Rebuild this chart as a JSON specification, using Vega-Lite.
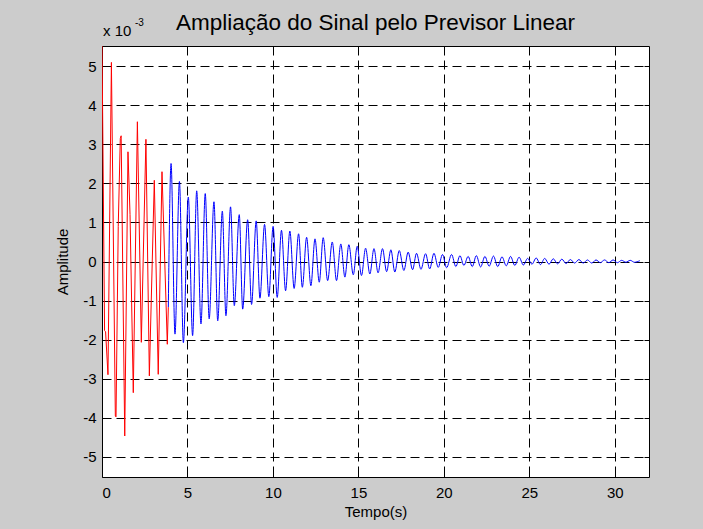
{
  "$schema": "https://vega.github.io/schema/vega-lite/v6.json",
  "width": 547,
  "height": 431,
  "autosize": {"type": "none"},
  "padding": {"left": 102, "top": 46, "right": 54, "bottom": 52},
  "background": "#CCCCCC",
  "config": {
    "font": "Liberation Sans",
    "view": {"stroke": "#000000", "strokeWidth": 1, "fill": "#FFFFFF"}
  },
  "title": {
    "text": "Ampliação do Sinal pelo Previsor Linear",
    "font": "Liberation Sans",
    "fontSize": 22.5,
    "fontWeight": "normal",
    "color": "#000000",
    "anchor": "middle",
    "frame": "group",
    "baseline": "alphabetic",
    "offset": -12,
    "dy": 22
  },
  "datasets": {
    "sinal": [
      {"t": 0.00, "amp": 5.6, "trecho": "original"},
      {"t": 0.15, "amp": -1.77, "trecho": "original"},
      {"t": 0.21, "amp": -1.8, "trecho": "original"},
      {"t": 0.35, "amp": -2.9, "trecho": "original"},
      {"t": 0.55, "amp": 5.1, "trecho": "original"},
      {"t": 0.78, "amp": -3.96, "trecho": "original"},
      {"t": 0.82, "amp": -3.98, "trecho": "original"},
      {"t": 0.95, "amp": 0.9, "trecho": "original"},
      {"t": 1.07, "amp": 3.15, "trecho": "original"},
      {"t": 1.12, "amp": 3.22, "trecho": "original"},
      {"t": 1.33, "amp": -4.47, "trecho": "original"},
      {"t": 1.52, "amp": 2.81, "trecho": "original"},
      {"t": 1.64, "amp": 1.2, "trecho": "original"},
      {"t": 1.83, "amp": -3.36, "trecho": "original"},
      {"t": 2.07, "amp": 3.58, "trecho": "original"},
      {"t": 2.30, "amp": -2.07, "trecho": "original"},
      {"t": 2.57, "amp": 3.13, "trecho": "original"},
      {"t": 2.77, "amp": -2.93, "trecho": "original"},
      {"t": 3.06, "amp": 2.08, "trecho": "original"},
      {"t": 3.29, "amp": -2.89, "trecho": "original"},
      {"t": 3.51, "amp": 2.30, "trecho": "original"},
      {"t": 3.82, "amp": -2.12, "trecho": "original"},
      {"t": 3.88, "amp": -1.17, "trecho": "original"},

      {"t": 3.88, "amp": -1.17, "trecho": "previsto"},
      {"t": 4.04, "amp": 2.51, "trecho": "previsto"},
      {"t": 4.27, "amp": -1.86, "trecho": "previsto"},
      {"t": 4.53, "amp": 2.05, "trecho": "previsto"},
      {"t": 4.76, "amp": -2.08, "trecho": "previsto"},
      {"t": 5.05, "amp": 1.65, "trecho": "previsto"},
      {"t": 5.30, "amp": -1.90, "trecho": "previsto"},
      {"t": 5.54, "amp": 1.81, "trecho": "previsto"},
      {"t": 5.79, "amp": -1.60, "trecho": "previsto"},
      {"t": 6.04, "amp": 1.74, "trecho": "previsto"},
      {"t": 6.27, "amp": -1.47, "trecho": "previsto"},
      {"t": 6.55, "amp": 1.53, "trecho": "previsto"},
      {"t": 6.77, "amp": -1.52, "trecho": "previsto"},
      {"t": 7.04, "amp": 1.29, "trecho": "previsto"},
      {"t": 7.25, "amp": -1.39, "trecho": "previsto"},
      {"t": 7.52, "amp": 1.40, "trecho": "previsto"},
      {"t": 7.74, "amp": -1.13, "trecho": "previsto"},
      {"t": 8.03, "amp": 1.20, "trecho": "previsto"},
      {"t": 8.23, "amp": -1.22, "trecho": "previsto"},
      {"t": 8.52, "amp": 1.07, "trecho": "previsto"},
      {"t": 8.75, "amp": -1.10, "trecho": "previsto"},
      {"t": 9.02, "amp": 1.04, "trecho": "previsto"},
      {"t": 9.24, "amp": -0.94, "trecho": "previsto"},
      {"t": 9.51, "amp": 0.95, "trecho": "previsto"},
      {"t": 9.76, "amp": -0.90, "trecho": "previsto"},
      {"t": 10.01, "amp": 0.90, "trecho": "previsto"},
      {"t": 10.25, "amp": -0.92, "trecho": "previsto"},
      {"t": 10.50, "amp": 0.80, "trecho": "previsto"},
      {"t": 10.74, "amp": -0.75, "trecho": "previsto"},
      {"t": 10.99, "amp": 0.78, "trecho": "previsto"},
      {"t": 11.24, "amp": -0.69, "trecho": "previsto"},
      {"t": 11.50, "amp": 0.71, "trecho": "previsto"},
      {"t": 11.72, "amp": -0.66, "trecho": "previsto"},
      {"t": 11.97, "amp": 0.62, "trecho": "previsto"},
      {"t": 12.22, "amp": -0.62, "trecho": "previsto"},
      {"t": 12.46, "amp": 0.58, "trecho": "previsto"},
      {"t": 12.71, "amp": -0.53, "trecho": "previsto"},
      {"t": 12.94, "amp": 0.61, "trecho": "previsto"},
      {"t": 13.20, "amp": -0.49, "trecho": "previsto"},
      {"t": 13.47, "amp": 0.50, "trecho": "previsto"},
      {"t": 13.72, "amp": -0.49, "trecho": "previsto"},
      {"t": 13.97, "amp": 0.45, "trecho": "previsto"},
      {"t": 14.21, "amp": -0.40, "trecho": "previsto"},
      {"t": 14.44, "amp": 0.43, "trecho": "previsto"},
      {"t": 14.70, "amp": -0.34, "trecho": "previsto"},
      {"t": 14.93, "amp": 0.39, "trecho": "previsto"},
      {"t": 15.18, "amp": -0.36, "trecho": "previsto"},
      {"t": 15.42, "amp": 0.34, "trecho": "previsto"},
      {"t": 15.67, "amp": -0.32, "trecho": "previsto"},
      {"t": 15.91, "amp": 0.33, "trecho": "previsto"},
      {"t": 16.15, "amp": -0.29, "trecho": "previsto"},
      {"t": 16.41, "amp": 0.33, "trecho": "previsto"},
      {"t": 16.65, "amp": -0.26, "trecho": "previsto"},
      {"t": 16.90, "amp": 0.30, "trecho": "previsto"},
      {"t": 17.13, "amp": -0.27, "trecho": "previsto"},
      {"t": 17.39, "amp": 0.28, "trecho": "previsto"},
      {"t": 17.66, "amp": -0.23, "trecho": "previsto"},
      {"t": 17.91, "amp": 0.24, "trecho": "previsto"},
      {"t": 18.17, "amp": -0.21, "trecho": "previsto"},
      {"t": 18.40, "amp": 0.21, "trecho": "previsto"},
      {"t": 18.66, "amp": -0.20, "trecho": "previsto"},
      {"t": 18.93, "amp": 0.20, "trecho": "previsto"},
      {"t": 19.17, "amp": -0.19, "trecho": "previsto"},
      {"t": 19.42, "amp": 0.21, "trecho": "previsto"},
      {"t": 19.67, "amp": -0.15, "trecho": "previsto"},
      {"t": 19.92, "amp": 0.18, "trecho": "previsto"},
      {"t": 20.16, "amp": -0.16, "trecho": "previsto"},
      {"t": 20.45, "amp": 0.18, "trecho": "previsto"},
      {"t": 20.70, "amp": -0.13, "trecho": "previsto"},
      {"t": 20.94, "amp": 0.15, "trecho": "previsto"},
      {"t": 21.17, "amp": -0.10, "trecho": "previsto"},
      {"t": 21.42, "amp": 0.13, "trecho": "previsto"},
      {"t": 21.66, "amp": -0.13, "trecho": "previsto"},
      {"t": 21.90, "amp": 0.15, "trecho": "previsto"},
      {"t": 22.15, "amp": -0.14, "trecho": "previsto"},
      {"t": 22.40, "amp": 0.13, "trecho": "previsto"},
      {"t": 22.65, "amp": -0.12, "trecho": "previsto"},
      {"t": 22.90, "amp": 0.14, "trecho": "previsto"},
      {"t": 23.15, "amp": -0.13, "trecho": "previsto"},
      {"t": 23.40, "amp": 0.12, "trecho": "previsto"},
      {"t": 23.65, "amp": -0.11, "trecho": "previsto"},
      {"t": 23.90, "amp": 0.13, "trecho": "previsto"},
      {"t": 24.15, "amp": -0.10, "trecho": "previsto"},
      {"t": 24.40, "amp": 0.11, "trecho": "previsto"},
      {"t": 24.65, "amp": -0.09, "trecho": "previsto"},
      {"t": 24.90, "amp": 0.08, "trecho": "previsto"},
      {"t": 25.15, "amp": -0.07, "trecho": "previsto"},
      {"t": 25.40, "amp": 0.09, "trecho": "previsto"},
      {"t": 25.65, "amp": -0.08, "trecho": "previsto"},
      {"t": 25.90, "amp": 0.08, "trecho": "previsto"},
      {"t": 26.15, "amp": -0.07, "trecho": "previsto"},
      {"t": 26.40, "amp": 0.07, "trecho": "previsto"},
      {"t": 26.65, "amp": -0.06, "trecho": "previsto"},
      {"t": 26.90, "amp": 0.06, "trecho": "previsto"},
      {"t": 27.15, "amp": -0.05, "trecho": "previsto"},
      {"t": 27.40, "amp": 0.05, "trecho": "previsto"},
      {"t": 27.65, "amp": -0.04, "trecho": "previsto"},
      {"t": 27.90, "amp": 0.05, "trecho": "previsto"},
      {"t": 28.15, "amp": -0.04, "trecho": "previsto"},
      {"t": 28.40, "amp": 0.04, "trecho": "previsto"},
      {"t": 28.65, "amp": -0.04, "trecho": "previsto"},
      {"t": 28.90, "amp": 0.04, "trecho": "previsto"},
      {"t": 29.15, "amp": -0.03, "trecho": "previsto"},
      {"t": 29.40, "amp": 0.04, "trecho": "previsto"},
      {"t": 29.65, "amp": -0.03, "trecho": "previsto"},
      {"t": 29.90, "amp": 0.04, "trecho": "previsto"},
      {"t": 30.15, "amp": -0.03, "trecho": "previsto"},
      {"t": 30.40, "amp": 0.03, "trecho": "previsto"},
      {"t": 30.65, "amp": -0.02, "trecho": "previsto"},
      {"t": 30.90, "amp": 0.03, "trecho": "previsto"},
      {"t": 31.15, "amp": -0.02, "trecho": "previsto"},
      {"t": 31.46, "amp": 0.02, "trecho": "previsto"}
    ],
    "escala": [
      {"t": 0, "amp": 5.52, "base": "x 10", "expoente": "-3"}
    ]
  },
  "resolve": {"axis": {"x": "independent", "y": "independent"}},
  "layer": [
    {
      "data": {"name": "sinal"},
      "transform": [{"filter": "datum.trecho === 'original'"}],
      "mark": {"type": "line", "clip": true, "strokeWidth": 1, "color": "#FF0000"},
      "encoding": {
        "x": {
          "field": "t",
          "type": "quantitative",
          "scale": {"domain": [0, 32], "nice": false, "zero": false},
          "axis": {
            "title": "Tempo(s)",
            "values": [0, 5, 10, 15, 20, 25, 30],
            "labelExpr": "'' + datum.value",
            "domain": false,
            "grid": true,
            "gridColor": "#000000",
            "gridOpacity": 1,
            "gridWidth": 1,
            "gridDash": [9, 5],
            "tickColor": "#000000",
            "tickSize": -5,
            "labelFont": "Liberation Sans",
            "labelFontSize": 15,
            "labelColor": "#000000",
            "labelPadding": 13,
            "titleFont": "Liberation Sans",
            "titleFontSize": 15,
            "titleFontWeight": "normal",
            "titleColor": "#000000",
            "titleX": 273.5,
            "titleY": 34,
            "titleBaseline": "middle",
            "titleAlign": "center"
          }
        },
        "y": {
          "field": "amp",
          "type": "quantitative",
          "scale": {"domain": [-5.52, 5.52], "nice": false, "zero": false},
          "axis": {
            "title": "Amplitude",
            "values": [-5, -4, -3, -2, -1, 0, 1, 2, 3, 4, 5],
            "labelExpr": "'' + datum.value",
            "domain": false,
            "grid": true,
            "gridColor": "#000000",
            "gridOpacity": 1,
            "gridWidth": 1,
            "gridDash": [9, 5],
            "tickColor": "#000000",
            "tickSize": -5,
            "labelFont": "Liberation Sans",
            "labelFontSize": 15,
            "labelColor": "#000000",
            "labelPadding": 11,
            "titleFont": "Liberation Sans",
            "titleFontSize": 15,
            "titleFontWeight": "normal",
            "titleColor": "#000000",
            "titleX": -40,
            "titleY": 215.5,
            "titleAngle": -90,
            "titleBaseline": "middle",
            "titleAlign": "center"
          }
        }
      }
    },
    {
      "data": {"name": "sinal"},
      "transform": [{"filter": "datum.trecho === 'previsto'"}],
      "mark": {"type": "line", "clip": true, "strokeWidth": 1, "color": "#0000FF", "interpolate": "monotone"},
      "encoding": {
        "x": {
          "field": "t",
          "type": "quantitative",
          "axis": {"orient": "top", "values": [0, 5, 10, 15, 20, 25, 30], "labels": false, "grid": false, "domain": false, "title": null, "tickSize": -5, "tickColor": "#000000"}
        },
        "y": {
          "field": "amp",
          "type": "quantitative",
          "axis": {"orient": "right", "values": [-5, -4, -3, -2, -1, 0, 1, 2, 3, 4, 5], "labels": false, "grid": false, "domain": false, "title": null, "tickSize": -5, "tickColor": "#000000"}
        }
      }
    },
    {
      "data": {"name": "escala"},
      "mark": {"type": "text", "align": "left", "baseline": "alphabetic", "font": "Liberation Sans", "fontSize": 15, "fill": "#000000", "dx": 1, "dy": -10},
      "encoding": {
        "x": {"field": "t", "type": "quantitative", "axis": null},
        "y": {"field": "amp", "type": "quantitative", "axis": null},
        "text": {"field": "base"}
      }
    },
    {
      "data": {"name": "escala"},
      "mark": {"type": "text", "align": "left", "baseline": "alphabetic", "font": "Liberation Sans", "fontSize": 10, "fill": "#000000", "dx": 33, "dy": -20},
      "encoding": {
        "x": {"field": "t", "type": "quantitative", "axis": null},
        "y": {"field": "amp", "type": "quantitative", "axis": null},
        "text": {"field": "expoente"}
      }
    }
  ]
}
